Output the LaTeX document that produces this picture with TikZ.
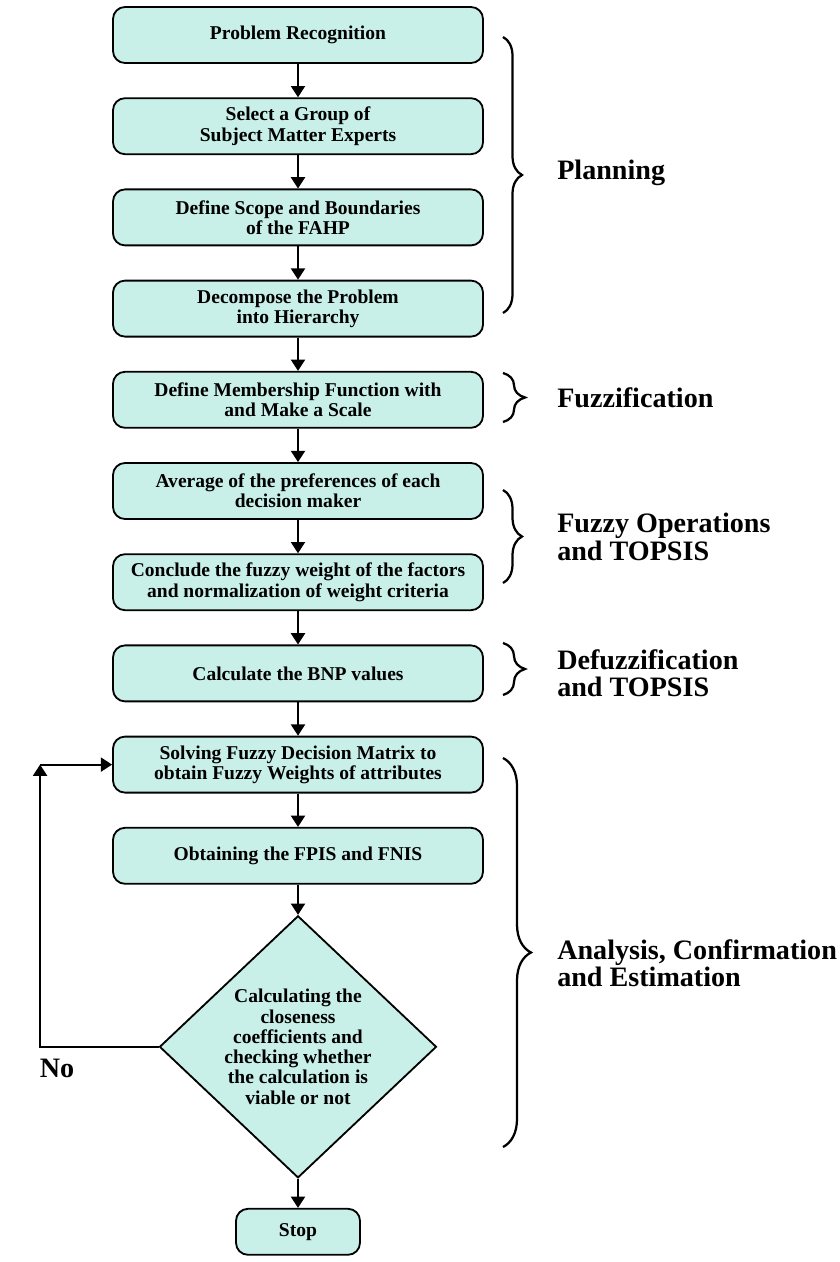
\documentclass[tikz,border=0pt]{standalone}
\usepackage{fontspec}
\setmainfont{Liberation Serif}
\usepackage{tikz}
\usetikzlibrary{shapes,arrows.meta,positioning,decorations.pathreplacing}
\definecolor{aqua}{RGB}{200,240,233}
\tikzset{process/.style={rectangle, draw, fill=aqua, line width=1.3pt, rounded corners=0.3cm,
 minimum width=9.25cm, minimum height=1.4cm, align=center, font=\fontsize{13.9}{14.4}\selectfont\bfseries}}
\tikzset{decision/.style={diamond, draw, fill=aqua, line width=1.3pt, minimum width=6.925cm,
 minimum height=6.35cm, inner sep=0pt, align=center, font=\fontsize{13.9}{14.4}\selectfont\bfseries}}
\tikzset{stopbox/.style={process, minimum width=3.1cm, minimum height=1.15cm}}
\tikzset{phase/.style={anchor=west, inner sep=0pt, align=left, font=\fontsize{20}{19.5}\selectfont\bfseries}}
\tikzset{bracket/.style={draw, line width=1.6pt, decorate, decoration={brace, amplitude=#1}}}
\tikzset{line/.style={draw, line width=1.3pt, -{Triangle[length=8pt,width=10pt]}}}

\begin{document}
\begin{tikzpicture}[node distance=2.28cm]
        \useasboundingbox (0,0) rectangle (20.975,-31.55);
        \node[process] at (7.45,-0.875) (recog){Problem Recognition};
        \node[process, below of=recog] (experts){Select a Group of\\Subject Matter Experts};
        \node[process, below of=experts] (scope){Define Scope and Boundaries\\of the FAHP};
        \node[process, below of=scope] (decomp){Decompose the Problem\\into Hierarchy};
        \node[process, below of=decomp] (member){Define Membership Function with\\and Make a Scale};
        \node[process, below of=member] (average){Average of the preferences of each\\decision maker};
        \node[process, below of=average] (weight){Conclude the fuzzy weight of the factors\\and normalization of weight criteria};
        \node[process, below of=weight] (bnp){Calculate the BNP values};
        \node[process, below of=bnp] (solve){Solving Fuzzy Decision Matrix to\\obtain Fuzzy Weights of attributes};
        \node[process, below of=solve] (fpis){Obtaining the FPIS and FNIS};
        \node[decision, below of=fpis, node distance=4.775cm] (check){Calculating the\\closeness\\coefficients and\\checking whether\\the calculation is\\viable or not};
        \node[stopbox, below of=check, node distance=4.625cm] (stop){Stop};
        \coordinate[left=1.8cm of solve.west] (back);
        \node[phase, anchor=center] at (1.425,-26.7) (no){No};

        \path[line] (recog) -- (experts);
        \path[line] (experts) -- (scope);
        \path[line] (scope) -- (decomp);
        \path[line] (decomp) -- (member);
        \path[line] (member) -- (average);
        \path[line] (average) -- (weight);
        \path[line] (weight) -- (bnp);
        \path[line] (bnp) -- (solve);
        \path[line] (solve) -- (fpis);
        \path[line] (fpis) -- (check);
        \path[line] (check) -- (stop);
        \path[line] (check.west) -| (back);
        \path[line] (back) -- (solve.west);

        % phase braces
        \path[bracket=0.475cm] (12.575,-0.925) -- (12.575,-7.825);
        \path[bracket=0.55cm] (12.575,-9.325) -- (12.575,-10.55);
        \path[bracket=0.475cm] (12.575,-12.25) -- (12.575,-14.575);
        \path[bracket=0.55cm] (12.575,-16.075) -- (12.575,-17.375);
        \path[bracket=0.7cm] (12.575,-18.95) -- (12.575,-28.675);
        \node[phase] at (13.925,-4.325) (plan){Planning};
        \node[phase] at (13.925,-9.95) (fuzz){Fuzzification};
        \node[phase] at (13.925,-13.425) (ops){Fuzzy Operations\\and TOPSIS};
        \node[phase] at (13.925,-16.825) (defuzz){Defuzzification\\and TOPSIS};
        \node[phase] at (13.925,-24.075) (anal){Analysis, Confirmation\\and Estimation};
      \end{tikzpicture}
\end{document}
